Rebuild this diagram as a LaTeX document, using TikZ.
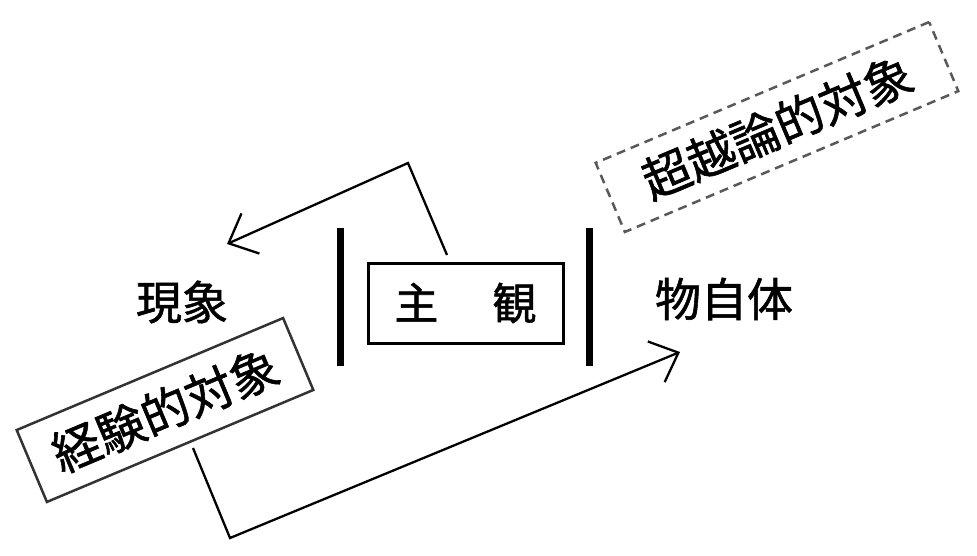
\documentclass[tikz,border=0pt]{standalone}
\usepackage{fontspec}
\setmainfont{Noto Sans CJK JP}[FakeBold=1.2,AutoFakeBold=1.2]
\usetikzlibrary{arrows.meta}
\tikzset{
  jp/.style={font=\fontsize{46}{46}\selectfont\bfseries, inner sep=0pt},
  mainbox/.style={draw, line width=3pt, minimum width=195pt, minimum height=80pt, inner sep=0pt, font=\fontsize{44}{44}\selectfont\bfseries},
  tiltbox/.style={draw=black!80, line width=2.5pt, minimum width=289pt, minimum height=78pt, inner sep=0pt, rotate=22.8, font=\fontsize{48}{48}\selectfont\bfseries},
  dashbox/.style={draw=black!65, line width=2.5pt, dash pattern=on 9pt off 6pt, minimum width=362pt, minimum height=75pt, inner sep=0pt, rotate=22.9, font=\fontsize{48}{48}\selectfont\bfseries},
  bar/.style={line width=7pt},
  conn/.style={line width=2.3pt, -{Straight Barb[length=24pt,width=44pt,line width=2.3pt]}},
}
\begin{document}
\begin{tikzpicture}[x=1pt,y=-1pt]
\useasboundingbox (0,0) rectangle (977,556);
\node[jp] (gensho) at (182,302) {現象};
\node[jp] (monojitai) at (724,299) {物自体};
\node[mainbox] (shukan) at (465.5,303) {主\hspace{54pt}観};
\coordinate (barLt) at (340,228); \coordinate (barLb) at (340,366);
\coordinate (barRt) at (589,228); \coordinate (barRb) at (589,366);
\draw[bar] (barLt) -- (barLb);
\draw[bar] (barRt) -- (barRb);
\node[tiltbox] (keiken) at (165,410) {経験的対象};
\node[dashbox] (choetsu) at (777,127) {超越論的対象};
\coordinate (upStart) at (447,255);
\coordinate (upBend) at (408,163);
\coordinate (upTip) at (227,244);
\draw[conn, line join=miter] (upStart) -- (upBend) -- (upTip);
\coordinate (loStart) at (193,448);
\coordinate (loBend) at (230,538);
\coordinate (loTip) at (680,352);
\draw[conn, line join=miter] (loStart) -- (loBend) -- (loTip);
\end{tikzpicture}
\end{document}
